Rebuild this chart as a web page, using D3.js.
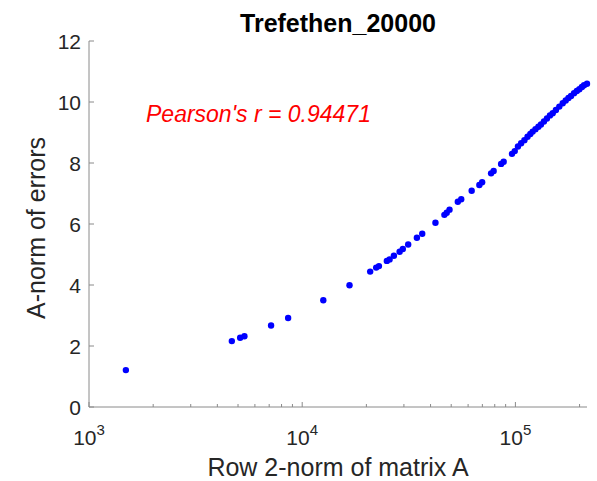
<!DOCTYPE html>
<html>
<head>
<meta charset="utf-8">
<script src="https://cdn.jsdelivr.net/npm/d3@7"></script>
<style>
body { margin: 0; background: #fff; }
text { font-family: "Liberation Sans", Arial, sans-serif; }
</style>
</head>
<body>
<svg width="597" height="481"></svg>
<script>
// row 2-norm of A (x) against A-norm of errors (y)
var rowNorm = [1489, 4677, 5117, 5358, 7145, 8590, 12560, 16670,
  20840, 22230, 22910, 24950, 25700, 26920, 28640, 29650, 31410, 34510, 36560,
  42170, 46450, 47640, 49090, 53700, 55720, 62370, 67760, 69820, 76910, 79070,
  85700, 88100, 96390, 99310, 102800, 106400, 110200, 114000, 117500, 120500,
  124200, 128200, 131800, 136100, 140600, 145200, 149600, 154900, 160700,
  166700, 172200, 177400, 182400, 188400, 194100, 199500, 205100, 209900, 216700];
var errNorm = [1.21, 2.16, 2.27, 2.32, 2.67, 2.92, 3.50, 3.99,
  4.44, 4.57, 4.62, 4.79, 4.84, 4.96, 5.09, 5.18, 5.33, 5.55, 5.68,
  6.04, 6.30, 6.37, 6.47, 6.73, 6.81, 7.09, 7.28, 7.37, 7.66, 7.74,
  7.97, 8.04, 8.30, 8.39, 8.54, 8.65, 8.75, 8.86, 8.95, 9.03,
  9.11, 9.19, 9.26, 9.36, 9.46, 9.56, 9.63, 9.74, 9.85,
  9.96, 10.05, 10.13, 10.20, 10.29, 10.36, 10.42, 10.49, 10.55, 10.60];
var yTicks = [0, 2, 4, 6, 8, 10, 12];
var xTickExp = [3, 4, 5];
var titleText = 'Trefethen_20000';
var rText = "Pearson's r = 0.94471";

var svg = d3.select('svg');
var pL = 89, pR = 587, pT = 41, pB = 407;
var axisCol = '#8a8a8a', textCol = '#262626';

var x = d3.scaleLog().domain([1000, d3.max(rowNorm)]).range([pL, pR]);
var y = d3.scaleLinear().domain([0, 12]).range([pB, pT]);

// axis lines
svg.append('line').attr('x1', pL).attr('x2', pL).attr('y1', pT).attr('y2', pB)
  .attr('stroke', axisCol).attr('stroke-width', 1);
svg.append('line').attr('x1', pL).attr('x2', pR).attr('y1', pB).attr('y2', pB)
  .attr('stroke', axisCol).attr('stroke-width', 1);

// y ticks, pointing inward
svg.selectAll('.yt').data(yTicks).enter().append('line')
  .attr('x1', pL).attr('x2', pL + 5)
  .attr('y1', function(d) { return y(d); }).attr('y2', function(d) { return y(d); })
  .attr('stroke', axisCol).attr('stroke-width', 1);
svg.selectAll('.yl').data(yTicks).enter().append('text')
  .attr('x', pL - 8).attr('y', function(d) { return y(d) + 7.5; })
  .attr('text-anchor', 'end').attr('font-size', 21).attr('fill', textCol)
  .text(function(d) { return d; });

// x ticks: decades long, the rest short
var xt = x.ticks().filter(function(d) { return d <= x.domain()[1]; });
svg.selectAll('.xt').data(xt).enter().append('line')
  .attr('x1', function(d) { return x(d); }).attr('x2', function(d) { return x(d); })
  .attr('y1', pB)
  .attr('y2', function(d) { return Math.abs(Math.log10(d) % 1) < 1e-9 ? pB - 5 : pB - 3; })
  .attr('stroke', axisCol).attr('stroke-width', 1);

var xl = svg.selectAll('.xl').data(xTickExp).enter().append('text')
  .attr('x', function(d) { return x(Math.pow(10, d)); }).attr('y', 445)
  .attr('text-anchor', 'middle').attr('font-size', 21).attr('fill', textCol);
xl.append('tspan').text('10');
xl.append('tspan').attr('font-size', 15).attr('dy', -10).text(function(d) { return d; });

// points
svg.selectAll('.pt').data(rowNorm).enter().append('circle')
  .attr('cx', function(d) { return x(d); })
  .attr('cy', function(d, i) { return y(errNorm[i]); })
  .attr('r', 3.2).attr('fill', '#0000ff');

// labels
svg.append('text').attr('x', (pL + pR) / 2).attr('y', 32)
  .attr('text-anchor', 'middle').attr('font-size', 25).attr('font-weight', 'bold')
  .attr('fill', '#000').text(titleText);
svg.append('text').attr('x', (pL + pR) / 2).attr('y', 476)
  .attr('text-anchor', 'middle').attr('font-size', 25).attr('fill', textCol)
  .text('Row 2-norm of matrix A');
svg.append('text').attr('transform', 'translate(45,' + ((pT + pB) / 2 + 4) + ') rotate(-90)')
  .attr('text-anchor', 'middle').attr('font-size', 25).attr('fill', textCol)
  .text('A-norm of errors');
svg.append('text').attr('x', 146).attr('y', 122)
  .attr('font-size', 23).attr('font-style', 'italic').attr('fill', '#ff0000')
  .text(rText);
</script>
</body>
</html>
